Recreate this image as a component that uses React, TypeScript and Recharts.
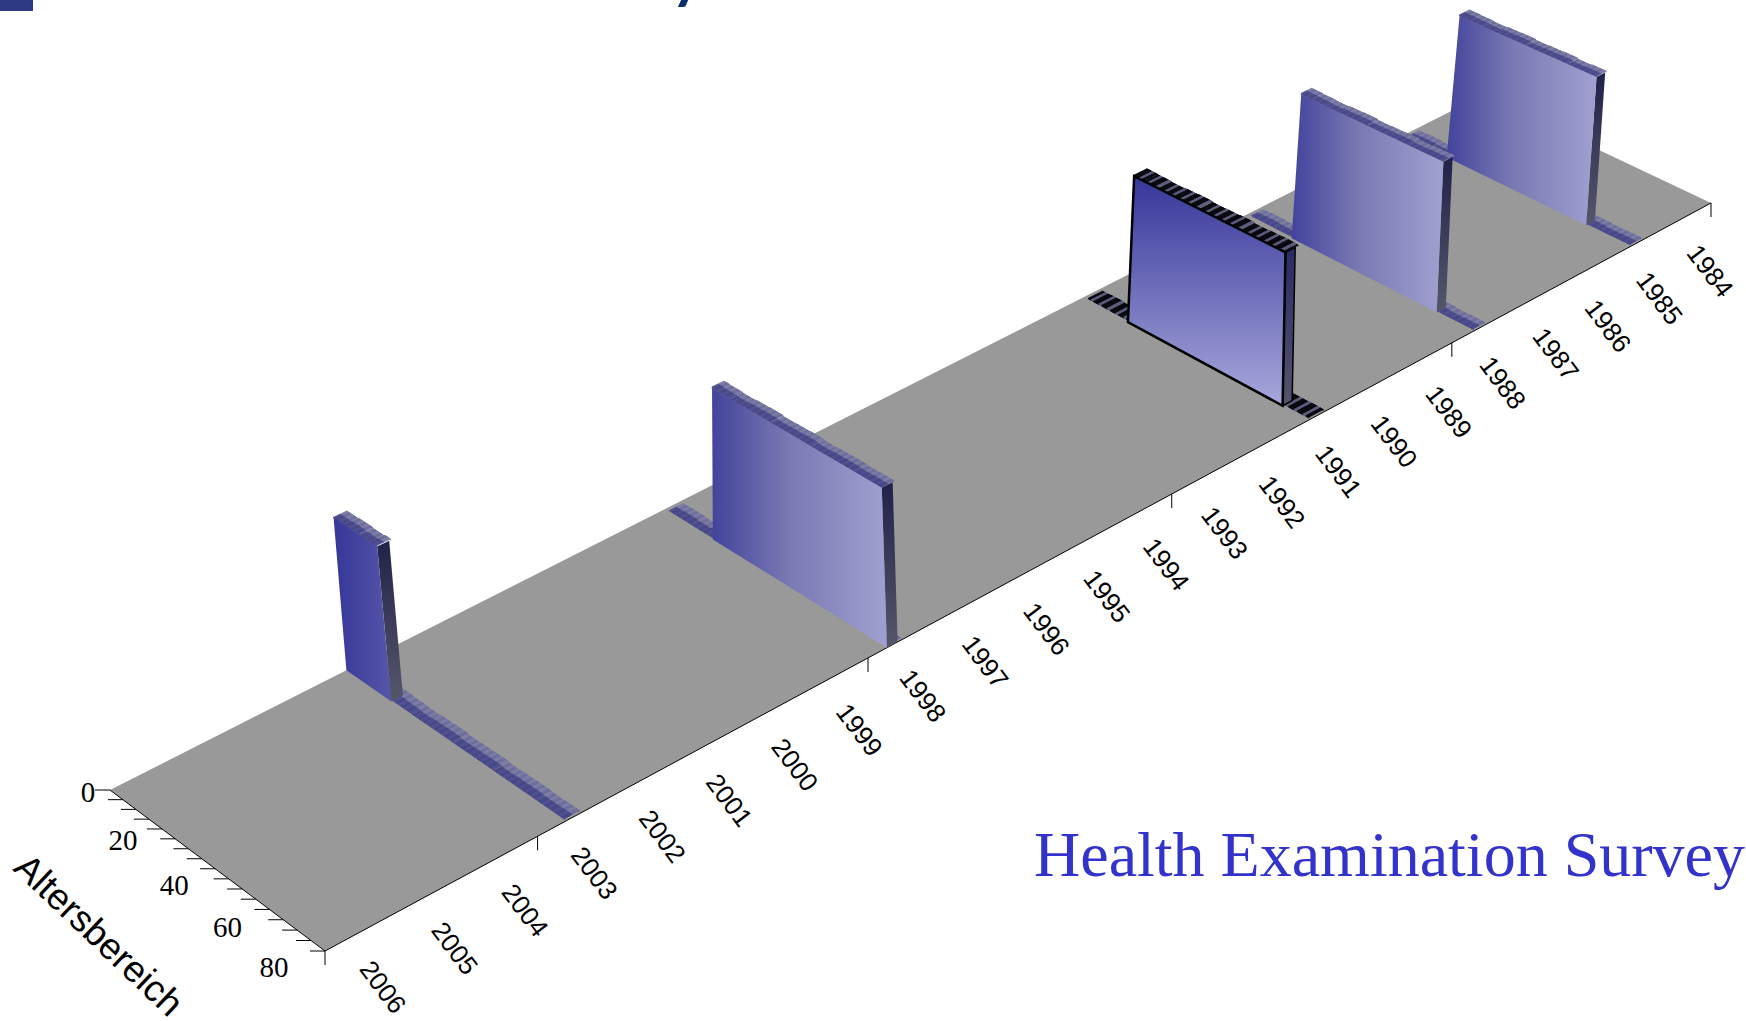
import { Polygon, Scatter, ScatterChart, XAxis, YAxis } from 'recharts';

const CHART_W = 1746;
const CHART_H = 1021;

// survey table
const surveyNames = ['KiGGS', 'BGS98', 'OW91', 'NUGS3', 'NUGS1'];
const surveyYears = [2002.6, 1997.7, 1990.6, 1987.6, 1984.6];
const surveyAgeFrom = [0, 18, 16.5, 16.5, 16];
const surveyAgeTo = [17, 80, 71, 67.5, 65];
const surveyHeights = [1, 1, 1, 1, 1];
const highlightedSurvey = 'OW91';

// small relative height changes along the age range, one value per 5 years of age
const ridgeSteps = [0.6, 1.2, 0.4, 1.4, 0.9, 0.2, 1.1, 1.5, 0.5, 0.9, 1.4, 0.3, 1.0, 1.3, 0.6, 1.0];

const yearLabels = [2006, 2005, 2004, 2003, 2002, 2001, 2000, 1999, 1998, 1997, 1996, 1995, 1994, 1993, 1992, 1991, 1990, 1989, 1988, 1987, 1986, 1985, 1984];
const yearTicks = [2006, 2003, 1998, 1993, 1988, 1983];
const ageLabels = [0, 20, 40, 60, 80];
const ageTicks = [0, 5, 10, 15, 20, 25, 30, 35, 40, 45, 50, 55, 60, 65, 70, 75, 80];

const YEAR_START = 2006;
const YEAR_END = 1983;
const AGE_MAX = 80;
const STRIP_START_AGE = 2;
const WALL_DEPTH = 0.17; // years
const RIDGE_BUMP = 0.006;

type Pt = { x: number; y: number };

// floor corners on screen: near year/age 0, far year/age 0, far year/age 80, near year/age 80
const C0 = { x: 110, y: 790 };
const C1 = { x: 1483, y: 95 };
const C2 = { x: 1711, y: 203 };
const C3 = { x: 325, y: 951 };

const det = (a: Pt, b: Pt) => a.x * b.y - a.y * b.x;
const dx1 = { x: C1.x - C2.x, y: C1.y - C2.y };
const dx2 = { x: C3.x - C2.x, y: C3.y - C2.y };
const sum = { x: C0.x - C1.x + C2.x - C3.x, y: C0.y - C1.y + C2.y - C3.y };
const G = det(sum, dx2) / det(dx1, dx2);
const H = det(dx1, sum) / det(dx1, dx2);

// vertical lines lean with the camera, read as a small table along the year axis
const LEAN_KNOTS = [
  [0.13, -0.0915],
  [0.35, 0.001],
  [0.65, 0.046],
  [0.8, 0.074],
  [0.93, 0.098],
];

function lean(u: number, v: number) {
  let base = LEAN_KNOTS[0][1];
  for (let i = 0; i < LEAN_KNOTS.length - 1; i++) {
    const [u0, l0] = LEAN_KNOTS[i];
    const [u1, l1] = LEAN_KNOTS[i + 1];
    if (u >= u0) base = l0 + ((Math.min(u, u1) - u0) / (u1 - u0)) * (l1 - l0);
  }
  return base - 0.035 * v;
}

// year, age and height to screen position
function project(year: number, age: number, height = 0): Pt {
  const u = (YEAR_START - year) / (YEAR_START - YEAR_END);
  const v = age / AGE_MAX;
  const w = 1 + G * u + H * v;
  const x = (C0.x + (C1.x - C0.x + G * C1.x) * u + (C3.x - C0.x + H * C3.x) * v) / w;
  const y = (C0.y + (C1.y - C0.y + G * C1.y) * u + (C3.y - C0.y + H * C3.y) * v) / w;
  const rise = height * (155 - 17 * u + 11 * v);
  return { x: x + rise * lean(u, v), y: y - rise };
}

const toRows = (pts: Pt[]) => pts.map((p) => ({ px: p.x, py: p.y }));

type Quad = { pts: Pt[]; fill: string; stroke?: string; strokeWidth?: number };

// every group of four points becomes one polygon of the series
function quadSeries(key: string, quads: Quad[]) {
  const data = toRows(quads.flatMap((q) => q.pts));
  return (
    <Scatter
      key={key}
      data={data}
      dataKey="py"
      isAnimationActive={false}
      shape={() => <g />}
      line={(props: any) => (
        <g>
          {quads.map((q, i) => (
            <Polygon
              key={i}
              points={props.points.slice(i * 4, i * 4 + 4)}
              fill={q.fill}
              stroke={q.stroke ?? 'none'}
              strokeWidth={q.strokeWidth ?? 0}
            />
          ))}
        </g>
      )}
    />
  );
}

function segmentSeries(key: string, segments: Pt[][], stroke = '#000', strokeWidth = 1) {
  return (
    <Scatter
      key={key}
      data={toRows(segments.flat())}
      dataKey="py"
      isAnimationActive={false}
      shape={() => <g />}
      line={(props: any) => (
        <g>
          {segments.map((_, i) => {
            const [a, b] = props.points.slice(i * 2, i * 2 + 2);
            return <line key={i} x1={a.x} y1={a.y} x2={b.x} y2={b.y} stroke={stroke} strokeWidth={strokeWidth} />;
          })}
        </g>
      )}
    />
  );
}

function labelSeries(key: string, rows: { px: number; py: number; text: string }[], style: any, angle = 0) {
  return (
    <Scatter
      key={key}
      data={rows}
      dataKey="py"
      isAnimationActive={false}
      shape={(p: any) => (
        <text
          x={p.cx}
          y={p.cy}
          textAnchor="middle"
          dominantBaseline="central"
          transform={angle ? `rotate(${angle} ${p.cx} ${p.cy})` : undefined}
          {...style}
        >
          {p.payload.text}
        </text>
      )}
    />
  );
}

function cellColor(age: number, highlighted: boolean, front: boolean) {
  if (highlighted) return age % 3 === 0 ? '#5c5c7c' : '#08080f';
  if (front) return age % 2 ? '#474788' : '#4f4f90';
  return age % 2 ? '#6e6e9c' : '#7c7ca6';
}

const stepAt = (age: number) => ridgeSteps[Math.min(Math.floor(age / 5), ridgeSteps.length - 1)];

// stepped cap of a wall or ridge, one cell for each year of age and two rows across the depth
function capQuads(year: number, a0: number, a1: number, depth: number, rise: number, bump: number, hl: boolean) {
  const quads: Quad[] = [];
  const mid = year - depth / 2;
  const back = year - depth;
  for (let age = a0; age < a1; age++) {
    const next = Math.min(age + 1, a1);
    const h = rise + bump * stepAt(age);
    const c0 = cellColor(Math.floor(age), hl, true);
    const c1 = cellColor(Math.floor(age), hl, false);
    // skirt closes the step down to the flat wall top
    quads.push({
      pts: [project(back, age, rise), project(back, next, rise), project(back, next, h), project(back, age, h)],
      fill: c1,
      stroke: c1,
      strokeWidth: 0.8,
    });
    quads.push({
      pts: [project(mid, age, h), project(mid, next, h), project(back, next, h), project(back, age, h)],
      fill: c1,
      stroke: c1,
      strokeWidth: 0.8,
    });
    quads.push({
      pts: [project(year, age, h), project(year, next, h), project(mid, next, h), project(mid, age, h)],
      fill: c0,
      stroke: c0,
      strokeWidth: 0.8,
    });
    quads.push({
      pts: [project(year, age, rise), project(year, next, rise), project(year, next, h), project(year, age, h)],
      fill: c0,
      stroke: c0,
      strokeWidth: 0.8,
    });
  }
  return quads;
}

function stripSeries(i: number) {
  const hl = surveyNames[i] === highlightedSurvey;
  const depth = WALL_DEPTH * (hl ? 1.5 : 1.25);
  return quadSeries(`strip-${i}`, capQuads(surveyYears[i], STRIP_START_AGE, AGE_MAX, depth, 0.012, RIDGE_BUMP, hl));
}

function wallSeries(i: number) {
  const year = surveyYears[i];
  const back = year - WALL_DEPTH;
  const a0 = surveyAgeFrom[i];
  const a1 = surveyAgeTo[i];
  const h = surveyHeights[i];
  const hl = surveyNames[i] === highlightedSurvey;
  const outline = hl ? '#000' : undefined;
  const faceFill = hl ? 'url(#faceHighlight)' : i === 0 ? 'url(#faceYoung)' : 'url(#faceAdult)';
  return [
    quadSeries(`side-${i}`, [
      {
        pts: [project(year, a1, 0), project(back, a1, 0), project(back, a1, h), project(year, a1, h)],
        fill: hl ? 'url(#sideHighlight)' : 'url(#sideShade)',
        stroke: outline,
        strokeWidth: hl ? 1.5 : 0,
      },
    ]),
    quadSeries(`top-${i}`, capQuads(year, a0, a1, WALL_DEPTH * (hl ? 1.3 : 1.1), h, RIDGE_BUMP, hl)),
    quadSeries(`face-${i}`, [
      {
        pts: [project(year, a0, 0), project(year, a1, 0), project(year, a1, h), project(year, a0, h)],
        fill: faceFill,
        stroke: outline,
        strokeWidth: hl ? 2.5 : 0,
      },
    ]),
  ];
}

const axisFont = 'Liberation Sans, Arial, sans-serif';
const serifFont = 'Liberation Serif, Times New Roman, serif';

const yearLabelRows = yearLabels.map((yr) => {
  const u = (YEAR_START - yr) / (YEAR_START - YEAR_END);
  const p = project(yr, AGE_MAX);
  return { px: p.x + 58 - 9 * u, py: p.y + 36 + 5 * u, text: String(yr) };
});

const AGE_LABEL_OFFSET: Record<number, number[]> = {
  0: [-22, 2],
  20: [-39, 11],
  40: [-41, 16],
  60: [-42, 18],
  80: [-51, 16],
};
const ageLabelRows = ageLabels.map((age) => {
  const p = project(YEAR_START, age);
  return { px: p.x + AGE_LABEL_OFFSET[age][0], py: p.y + AGE_LABEL_OFFSET[age][1], text: String(age) };
});

export default function App() {
  return (
    <div style={{ position: 'absolute', left: 0, top: 0, width: CHART_W, height: CHART_H, overflow: 'hidden', background: '#fff' }}>
      <ScatterChart width={CHART_W} height={CHART_H} margin={{ top: 0, right: 0, bottom: 0, left: 0 }}>
        <defs>
          <linearGradient id="faceAdult" x1="0" y1="0" x2="1" y2="0">
            <stop offset="0%" stopColor="#43439c" />
            <stop offset="45%" stopColor="#7a7ab4" />
            <stop offset="100%" stopColor="#a0a0d0" />
          </linearGradient>
          <linearGradient id="faceYoung" x1="0" y1="0" x2="1" y2="0">
            <stop offset="0%" stopColor="#36369a" />
            <stop offset="100%" stopColor="#5656a8" />
          </linearGradient>
          <linearGradient id="faceHighlight" x1="0" y1="0" x2="0" y2="1">
            <stop offset="0%" stopColor="#36369a" />
            <stop offset="100%" stopColor="#a8a8dc" />
          </linearGradient>
          <linearGradient id="sideShade" x1="0" y1="0" x2="0" y2="1">
            <stop offset="0%" stopColor="#22224a" />
            <stop offset="100%" stopColor="#56566a" />
          </linearGradient>
          <linearGradient id="sideHighlight" x1="0" y1="0" x2="0" y2="1">
            <stop offset="0%" stopColor="#2a2a68" />
            <stop offset="100%" stopColor="#55556c" />
          </linearGradient>
        </defs>
        <XAxis type="number" dataKey="px" domain={[0, CHART_W]} hide />
        <YAxis type="number" dataKey="py" domain={[0, CHART_H]} reversed hide />

        {quadSeries('floor', [
          { pts: [project(YEAR_START, 0), project(YEAR_END, 0), project(YEAR_END, AGE_MAX), project(YEAR_START, AGE_MAX)], fill: '#999999' },
        ])}
        {segmentSeries('edges', [
          [project(YEAR_START, AGE_MAX), project(YEAR_END, AGE_MAX)],
          [project(YEAR_START, 0), project(YEAR_START, AGE_MAX)],
          ...yearTicks.map((yr) => {
            const p = project(yr, AGE_MAX);
            return [p, { x: p.x, y: p.y + 14 }];
          }),
          ...ageTicks.map((age) => {
            const p = project(YEAR_START, age);
            return [p, { x: p.x - 15, y: p.y }];
          }),
        ])}

        {/* far surveys first so nearer walls cover them */}
        {[4, 3, 2, 1, 0].flatMap((i) => [stripSeries(i), ...wallSeries(i)])}

        {labelSeries('year-labels', yearLabelRows, { fontFamily: axisFont, fontSize: 26, fill: '#000' }, 53)}
        {labelSeries('age-labels', ageLabelRows, { fontFamily: serifFont, fontSize: 29, fill: '#000' })}
        {labelSeries('age-title', [{ px: 99, py: 935, text: 'Altersbereich' }], { fontFamily: axisFont, fontSize: 37, fill: '#000' }, 43.5)}

        <text x={1034} y={876} fontFamily={serifFont} fontSize={64} fill="#3333cc">
          Health Examination Survey
        </text>
        <rect x={0} y={0} width={33} height={11} fill="#2f3a85" />
        <text x={671} y={-3} fontFamily="Lato, sans-serif" fontSize={60} fontWeight="bold" fill="#0b2f6b">
          y
        </text>
      </ScatterChart>
    </div>
  );
}
